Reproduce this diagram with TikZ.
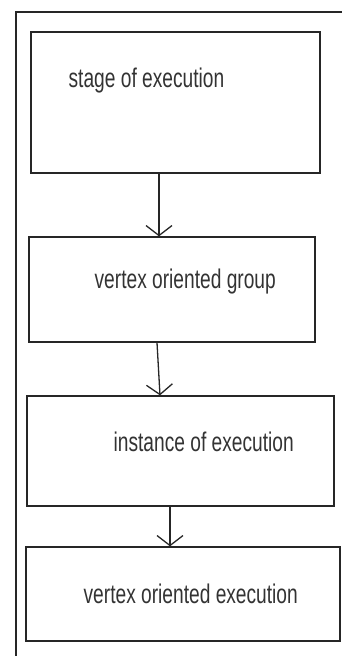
\documentclass[tikz,border=0pt]{standalone}
\usepackage{fontspec}
\setmainfont{Liberation Sans}[FakeStretch=0.71]
\usetikzlibrary{arrows.meta}
\begin{document}
\begin{tikzpicture}[x=1pt, y=-1pt, >={Straight Barb[length=10pt, width=26pt]}, line width=1.3pt, draw=black!85]
\tikzset{
  stagebox/.style={draw, rectangle, inner sep=0pt},
  txt/.style={anchor=base west, inner sep=0pt, text=black!80, font=\fontsize{27}{31}\selectfont}
}
\useasboundingbox (0,0) rectangle (342,656);
% outer frame
\draw (342,12) -- (16,12) -- (16,656);
\node[stagebox, minimum width=289pt, minimum height=141pt] (stage) at (175.5,102.5) {};
\node[stagebox, minimum width=286pt, minimum height=105pt] (group) at (172,289.5) {};
\node[stagebox, minimum width=307pt, minimum height=110pt] (inst) at (180.5,451) {};
\node[stagebox, minimum width=314pt, minimum height=94pt] (exec) at (183,594) {};
\node[txt] (stagetxt) at (68,87) {stage of execution};
\node[txt] (grouptxt) at (94,288) {vertex oriented group};
\node[txt] (insttxt) at (113,451) {instance of execution};
\node[txt] (exectxt) at (83,603) {vertex oriented execution};
\draw[->] (159,0 |- stage.south) -- (159,0 |- group.north);
\draw[->] (157,0 |- group.south) -- (160,0 |- inst.north);
\draw[->] (170,0 |- inst.south) -- (170,0 |- exec.north);
\end{tikzpicture}
\end{document}
